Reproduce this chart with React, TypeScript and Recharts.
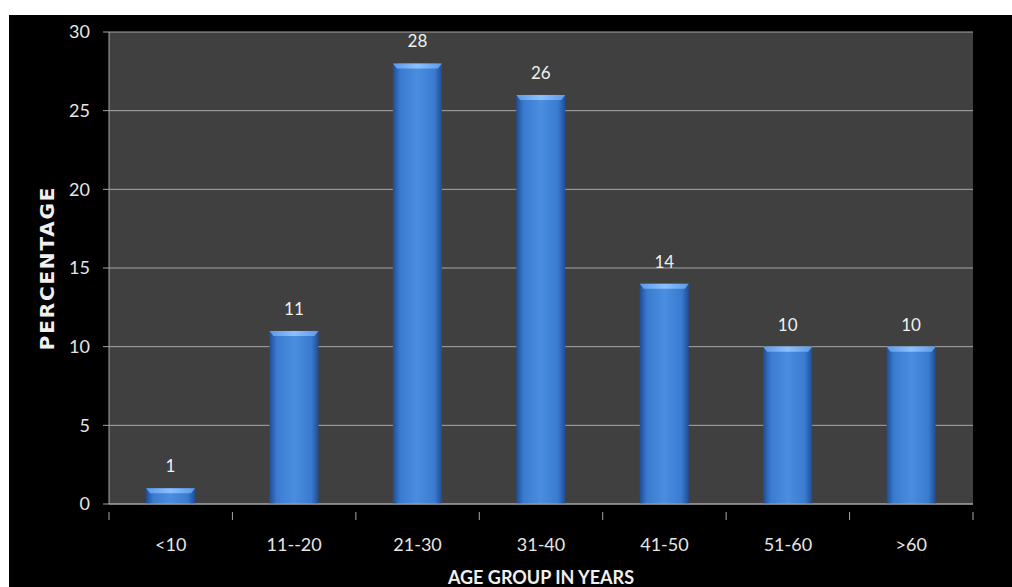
import React from 'react';
import {
  BarChart,
  Bar,
  XAxis,
  YAxis,
  CartesianGrid,
  LabelList,
  Label,
} from 'recharts';

const ageGroups = ['<10', '11--20', '21-30', '31-40', '41-50', '51-60', '>60'];
const percentages = [1, 11, 28, 26, 14, 10, 10];
const yTicks = [0, 5, 10, 15, 20, 25, 30];

const data = ageGroups.map((group, i) => ({ group, value: percentages[i] }));

const CHART_W = 1003;
const CHART_H = 572;
const X_AXIS_H = 83;
const MARGIN = { top: 17, right: 39, bottom: 0, left: 40 };
const Y_AXIS_W = 60;
const PLOT_W = CHART_W - MARGIN.left - MARGIN.right - Y_AXIS_W;
const BAND = PLOT_W / ageGroups.length;

const FONT = 'Lato, "Open Sans", sans-serif';

function GlossyBar(props: any) {
  const { x, y, width, height } = props;
  if (!height || height <= 0) return null;
  const cap = Math.min(5, height);
  return (
    <g>
      <rect x={x} y={y} width={width} height={height} fill="url(#barBody)" />
      <polygon
        points={`${x},${y} ${x + width},${y} ${x + width - 4},${y + cap} ${x + 4},${y + cap}`}
        fill="url(#barCap)"
      />
    </g>
  );
}

function CategoryTick(props: any) {
  const { x, y, payload, index } = props;
  const left = x - BAND / 2;
  return (
    <g>
      <line x1={left} y1={y} x2={left} y2={y + 8} stroke="#a6a6a6" strokeWidth={1} />
      {index === ageGroups.length - 1 && (
        <line x1={x + BAND / 2} y1={y} x2={x + BAND / 2} y2={y + 8} stroke="#a6a6a6" strokeWidth={1} />
      )}
      <text
        x={x}
        y={y + 39}
        textAnchor="middle"
        fill="#e6e6e6"
        fontSize={18}
        fontFamily={FONT}
      >
        {payload.value}
      </text>
    </g>
  );
}

export default function App() {
  return (
    <div
      style={{
        position: 'absolute',
        left: 9,
        top: 15,
        width: CHART_W,
        height: CHART_H,
        background: '#000',
      }}
    >
      <BarChart width={CHART_W} height={CHART_H} data={data} margin={MARGIN} barCategoryGap="30%">
        <defs>
          <linearGradient id="barBody" x1="0" y1="0" x2="1" y2="0">
            <stop offset="0%" stopColor="#1f4d94" />
            <stop offset="15%" stopColor="#3a7bd0" />
            <stop offset="50%" stopColor="#4a8ee0" />
            <stop offset="85%" stopColor="#3a7bd0" />
            <stop offset="100%" stopColor="#1f4d94" />
          </linearGradient>
          <linearGradient id="barCap" x1="0" y1="0" x2="1" y2="0">
            <stop offset="0%" stopColor="#5b9ae8" />
            <stop offset="50%" stopColor="#8cc0ff" />
            <stop offset="100%" stopColor="#5b9ae8" />
          </linearGradient>
        </defs>
        <CartesianGrid vertical={false} stroke="#a6a6a6" fill="#404040" fillOpacity={1} />
        <XAxis
          dataKey="group"
          stroke="#a6a6a6"
          tickLine={false}
          tick={<CategoryTick />}
          interval={0}
          height={X_AXIS_H}
        >
          <Label
            value="AGE GROUP IN YEARS"
            position="insideBottom"
            offset={3}
            fill="#f0f0f0"
            fontSize={18}
            fontWeight="bold"
            fontFamily={FONT}
          />
        </XAxis>
        <YAxis
          width={Y_AXIS_W}
          domain={[0, 30]}
          ticks={yTicks}
          stroke="#a6a6a6"
          tickSize={6}
          tickMargin={13}
          tick={{ fill: '#e6e6e6', fontSize: 18, fontFamily: FONT }}
        >
          <Label
            value="PERCENTAGE"
            angle={-90}
            position="center"
            dx={-32}
            fill="#f0f0f0"
            fontSize={20}
            fontWeight="bold"
            letterSpacing={1.8}
            fontFamily='"DejaVu Sans", sans-serif'
          />
        </YAxis>
        <Bar dataKey="value" shape={<GlossyBar />} isAnimationActive={false}>
          <LabelList
            dataKey="value"
            position="top"
            offset={16}
            fill="#f0f0f0"
            fontSize={17}
            fontFamily={FONT}
          />
        </Bar>
      </BarChart>
    </div>
  );
}
